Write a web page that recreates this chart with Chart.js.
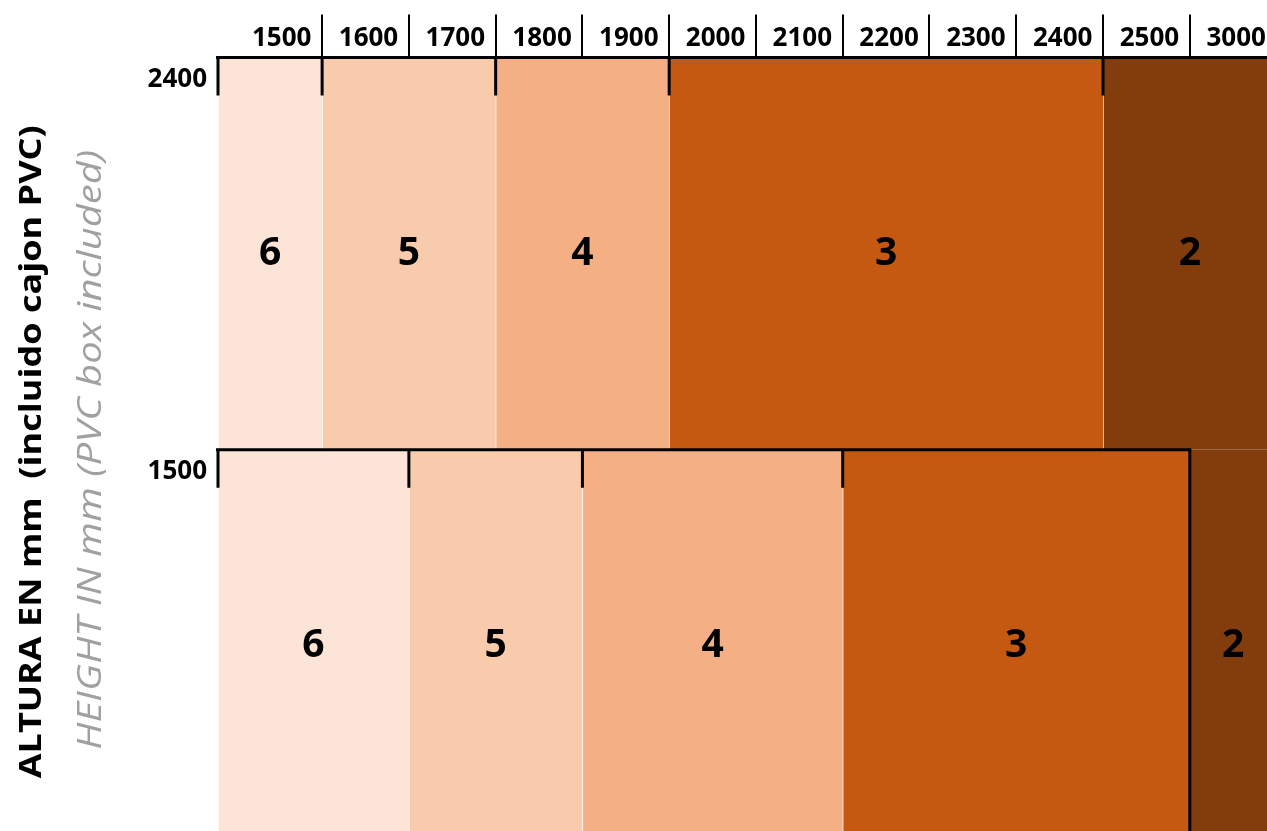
<!DOCTYPE html>
<html>
<head>
<meta charset="utf-8">
<script src="https://cdn.jsdelivr.net/npm/chart.js@4.4.0/dist/chart.umd.min.js"></script>
<style>
  html, body { margin: 0; padding: 0; background: #fff; overflow: hidden; }
  #wrap { width: 1267px; height: 842px; }
</style>
</head>
<body>
<div id="wrap"><canvas id="myChart"></canvas></div>
<script>
const widths = ['1500', '1600', '1700', '1800', '1900', '2000', '2100', '2200', '2300', '2400', '2500', '3000'];
const heights = ['2400', '1500'];
const units = [6, 5, 4, 3, 2];
// first / last width column for each unit count, per height row
const from2400 = ['1500', '1600', '1800', '2000', '2500'];
const to2400 = ['1500', '1700', '1900', '2400', '3000'];
const from1500 = ['1500', '1700', '1900', '2200', '3000'];
const to1500 = ['1600', '1800', '2100', '2500', '3000'];
// last framed column of each row
const tableEnd = ['3000', '2500'];
const colors = ['#FCE4D6', '#F8CBAD', '#F4B084', '#C65911', '#833C0C'];
const titleEs = 'ALTURA EN mm  (incluido cajon PVC)';
const titleEn = 'HEIGHT IN mm (PVC box included)';

const FONT = "'Open Sans', sans-serif";
const X_MIN = -0.2;   // first column is a bit wider
const X_MAX = 11.89;

const col = w => widths.indexOf(w);
const range = (f, t) => [col(f) === 0 ? X_MIN : col(f), col(t) + 1];

const datasets = units.map((u, i) => ({
  label: String(u),
  data: [range(from2400[i], to2400[i]), range(from1500[i], to1500[i])],
  backgroundColor: colors[i],
  borderColor: '#fff',
  borderWidth: { left: 1, right: 0, top: 0, bottom: 0 },
  borderSkipped: false,
  grouped: false,
  barPercentage: 1,
  categoryPercentage: 1,
}));

const framePlugin = {
  id: 'frame',
  afterDatasetsDraw(chart) {
    const { ctx, chartArea } = chart;
    const y = chart.scales.y;
    const x = chart.scales.x;
    const rowH = (y.bottom - y.top) / heights.length;
    ctx.save();
    ctx.strokeStyle = '#000';
    ctx.lineWidth = 3;
    heights.forEach((h, r) => {
      const top = y.getPixelForValue(r) - rowH / 2;
      const xEnd = Math.min(x.getPixelForValue(col(tableEnd[r]) + 1), chartArea.right);
      ctx.beginPath();
      ctx.moveTo(chartArea.left - 2, top);
      ctx.lineTo(xEnd + 1.5, top);
      ctx.stroke();
      chart.data.datasets.forEach((ds, d) => {
        const el = chart.getDatasetMeta(d).data[r];
        const start = Math.max(Math.min(el.base, el.x), chartArea.left - 0.5);
        if (start < xEnd - 1) {
          ctx.beginPath();
          ctx.moveTo(start, top);
          ctx.lineTo(start, top + 38);
          ctx.stroke();
        }
      });
      if (xEnd < chartArea.right - 1) {
        ctx.beginPath();
        ctx.moveTo(xEnd, top);
        ctx.lineTo(xEnd, top + rowH);
        ctx.stroke();
      }
    });
    // unit counts in the middle of each block
    ctx.fillStyle = '#000';
    ctx.font = "bold 39px " + FONT;
    ctx.textAlign = 'center';
    ctx.textBaseline = 'middle';
    chart.data.datasets.forEach((ds, d) => {
      chart.getDatasetMeta(d).data.forEach(el => {
        ctx.fillText(ds.label, (el.x + el.base) / 2, el.y);
      });
    });
    ctx.restore();
  }
};

// rotated axis titles, stretched along their length like the original
function drawTitle(ctx, text, font, color, x, y, length) {
  ctx.save();
  ctx.translate(x, y);
  ctx.rotate(-Math.PI / 2);
  ctx.font = font;
  ctx.scale(length / ctx.measureText(text).width, 1);
  ctx.fillStyle = color;
  ctx.textAlign = 'center';
  ctx.textBaseline = 'middle';
  ctx.fillText(text, 0, 0);
  ctx.restore();
}

const titlePlugin = {
  id: 'sideTitles',
  afterDraw(chart) {
    const { ctx, chartArea } = chart;
    const mid = (chartArea.top + chartArea.bottom) / 2;
    drawTitle(ctx, titleEs, "bold 31px " + FONT, '#000', 32, mid + 2, 653);
    drawTitle(ctx, titleEn, "italic 32px " + FONT, '#a0a0a0', 92, mid, 600);
  }
};

const config = {
  type: 'bar',
  data: { labels: heights, datasets },
  options: {
    indexAxis: 'y',
    responsive: true,
    maintainAspectRatio: false,
    animation: false,
    layout: { padding: 0 },
    plugins: {
      legend: { display: false },
      tooltip: { enabled: false },
    },
    scales: {
      x: {
        type: 'linear',
        position: 'top',
        min: X_MIN,
        max: X_MAX,
        afterBuildTicks: s => { s.ticks = widths.map((w, i) => ({ value: i + 0.5 })); },
        afterFit: s => { s.height = 57.5; s.paddingLeft = 0; s.paddingRight = 0; },
        ticks: {
          callback: (v, i) => widths[i],
          autoSkip: false,
          maxRotation: 0,
          padding: -40,
          labelOffset: 3,
          color: '#000',
          font: { family: FONT, size: 26, weight: 'bold' },
        },
        grid: {
          offset: true,
          drawOnChartArea: false,
          tickLength: 43,
          lineWidth: 2,
          color: c => c.index === 0 ? 'rgba(0,0,0,0)' : '#000',
        },
        border: { display: false },
      },
      y: {
        type: 'category',
        position: 'left',
        afterFit: s => { s.width = 218; s.paddingTop = 0; s.paddingBottom = 0; },
        ticks: {
          padding: 3,
          labelOffset: -174.5,
          color: '#000',
          font: { family: FONT, size: 26, weight: 'bold' },
        },
        grid: { display: false },
        border: { display: false },
      },
    },
  },
  plugins: [framePlugin, titlePlugin],
};

const ctx = document.getElementById('myChart');
const chart = new Chart(ctx, config);
</script>
</body>
</html>
